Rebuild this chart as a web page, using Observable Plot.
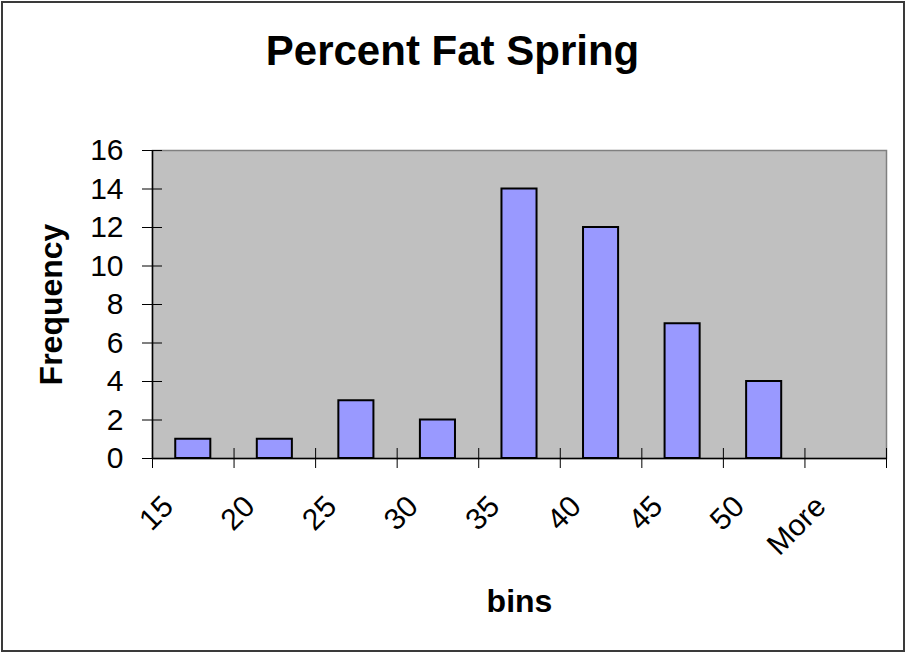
<!DOCTYPE html>
<html><head><meta charset="utf-8">
<script src="https://cdn.jsdelivr.net/npm/d3@7"></script>
<script src="https://cdn.jsdelivr.net/npm/@observablehq/plot@0.6"></script>
<style>
body{margin:0;background:#fff}
#chart svg{display:block;outline:2px solid #3a3a3a;outline-offset:-3px}
</style>
</head><body><div id="chart"></div>
<script>
const bins = ["15","20","25","30","35","40","45","50","More"];
const frequency = [1,1,3,2,14,12,7,4,0];
const yTicks = [0,2,4,6,8,10,12,14,16];
const title = "Percent Fat Spring";
const xLabel = "bins";
const yLabel = "Frequency";

const data = bins.map((b,i)=>({bin:b, i, freq: frequency[i]}));
const boundaries = d3.range(bins.length+1);
const font = "'Liberation Sans', Arial, sans-serif";

const plot = Plot.plot({
  width: 906, height: 653,
  marginLeft: 152, marginRight: 20, marginTop: 150, marginBottom: 195,
  style: {fontFamily: font, background: "#fff", overflow: "visible", color: "#000"},
  x: {domain: [0, bins.length], axis: null},
  y: {domain: [0, 16], axis: null},
  marks: [
    Plot.frame({fill: "#c0c0c0", stroke: "#808080", strokeWidth: 1.5}),
    Plot.rectY(data.filter(d=>d.freq>0), {x1: d=>d.i+0.285, x2: d=>d.i+0.715, y1: 0, y2: "freq", fill:"#9999ff", stroke:"#000", strokeWidth:2}),
    Plot.ruleX([0], {stroke:"#000", strokeWidth: 1.5}),
    Plot.ruleY([0], {stroke:"#000", strokeWidth: 1.5}),
    Plot.ruleX(boundaries, {x: d=>d, y1: 0, y2: 0, insetTop: -10, insetBottom: -10, stroke:"#000", strokeWidth: 1}),
    Plot.ruleY(yTicks, {y: d=>d, x1: 0, x2: 0, insetLeft: -10, insetRight: -10, stroke: "#000", strokeWidth: 1}),
    Plot.text(yTicks, {x: 0, y: d=>d, text: d=>String(d), textAnchor:"end", lineAnchor:"middle", dx: -29, fontSize: 30, fill:"#000"}),
    Plot.text(data, {x: d=>d.i+0.5, y: 0, text:"bin", rotate:-45, textAnchor:"end", lineAnchor:"middle", dx:-25, dy:43, fontSize:30, fill:"#000"}),
    Plot.text([title], {frameAnchor:"top", textAnchor:"middle", lineAnchor:"middle", dx: -67, dy: -99, fontSize: 42, fontWeight: "bold", fill:"#000"}),
    Plot.text([xLabel], {frameAnchor:"bottom", textAnchor:"middle", lineAnchor:"middle", dy: 143, fontSize: 32, fontWeight: "bold", fill:"#000"}),
    Plot.text([yLabel], {frameAnchor:"left", textAnchor:"middle", lineAnchor:"middle", dx: -101, rotate: -90, fontSize: 32, fontWeight: "bold", fill:"#000"})
  ]
});
document.getElementById("chart").appendChild(plot);
</script>
</body></html>
